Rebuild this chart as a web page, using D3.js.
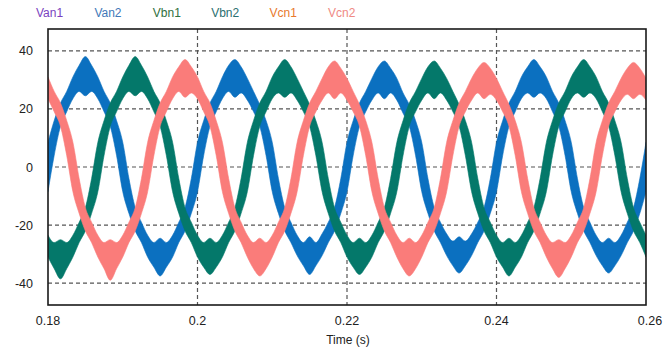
<!DOCTYPE html>
<html>
<head>
<meta charset="utf-8">
<script src="https://cdn.jsdelivr.net/npm/d3@7"></script>
<style>
  body { margin: 0; background: #fff; }
  svg { display: block; font-family: "Liberation Sans", Arial, sans-serif; }
</style>
</head>
<body>
<div id="chart"></div>
<script>
// legend names and colours (Van1/Vbn1/Vcn1 lie under the "2" traces)
const seriesNames = ['Van1', 'Van2', 'Vbn1', 'Vbn2', 'Vcn1', 'Vcn2'];
const legendColors = ['#7a3fc0', '#3f78b8', '#2f7040', '#2b7070', '#e8792c', '#ef8a84'];

const xTicks = [0.18, 0.2, 0.22, 0.24, 0.26];
const xTickLabels = ['0.18', '0.2', '0.22', '0.24', '0.26'];
const yTicks = [40, 20, 0, -20, -40];
const yTickLabels = ['40', '20', '0', '-20', '-40'];

// sample times (s)
const time = [
  0.18, 0.18083, 0.18167, 0.1825, 0.18333, 0.18417, 0.185, 0.18583, 0.18667, 0.1875, 0.18833, 0.18917,
  0.19, 0.19083, 0.19167, 0.1925, 0.19333, 0.19417, 0.195, 0.19583, 0.19667, 0.1975, 0.19833, 0.19917,
  0.2, 0.20083, 0.20167, 0.2025, 0.20333, 0.20417, 0.205, 0.20583, 0.20667, 0.2075, 0.20833, 0.20917,
  0.21, 0.21083, 0.21167, 0.2125, 0.21333, 0.21417, 0.215, 0.21583, 0.21667, 0.2175, 0.21833, 0.21917,
  0.22, 0.22083, 0.22167, 0.2225, 0.22333, 0.22417, 0.225, 0.22583, 0.22667, 0.2275, 0.22833, 0.22917,
  0.23, 0.23083, 0.23167, 0.2325, 0.23333, 0.23417, 0.235, 0.23583, 0.23667, 0.2375, 0.23833, 0.23917,
  0.24, 0.24083, 0.24167, 0.2425, 0.24333, 0.24417, 0.245, 0.24583, 0.24667, 0.2475, 0.24833, 0.24917,
  0.25, 0.25083, 0.25167, 0.2525, 0.25333, 0.25417, 0.255, 0.25583, 0.25667, 0.2575, 0.25833, 0.25917,
  0.26
];

// upper / lower edge of each switching-ripple band (V)
const vanHi = [
  8.5, 16, 22, 26, 31, 35,
  38, 35, 31, 26, 22, 16, 8.5, -4, -14, -19, -23.5, -26, -24.5, -26, -23.5, -19, -14, -4, 8.5, 16, 22, 26, 31, 35,
  37, 34.5, 30.5, 26, 21.5, 16, 8.5, -4, -14, -19, -23.5, -26, -24, -26, -23, -19, -14, -4, 8.5, 16, 22, 26, 30.5, 34.5,
  36.5, 34, 30.5, 25.5, 21.5, 16, 8.5, -4, -14, -19, -23, -25.5, -24, -25.5, -23, -19, -14, -4, 8.5, 16, 22, 26, 31, 34.5,
  37, 34.5, 31, 26, 22, 16, 8.5, -4, -14, -19, -23.5, -26, -24.5, -26, -23.5, -19, -14, -4, 8.5
];
const vanLo = [
  -8.5, 4, 14, 19, 23.5, 26,
  24.5, 26, 23.5, 19, 14, 4, -8.5, -16, -22, -26, -31, -34.5, -37.5, -34.5, -31, -26, -22, -16, -8.5, 4, 14, 19, 23.5, 26,
  24, 25.5, 23, 19, 14, 4, -8.5, -16, -22, -26, -30.5, -34, -37, -34, -30.5, -26, -22, -16, -8.5, 4, 14, 19, 23, 25.5,
  23.5, 25.5, 23, 18.5, 14, 4, -8.5, -16, -22, -26, -30.5, -34, -36.5, -34, -30.5, -26, -22, -16, -8.5, 4, 14, 19, 23.5, 25.5,
  24, 25.5, 23.5, 19, 14, 4, -8.5, -16, -22, -26, -30.5, -34, -36.5, -34, -30.5, -26, -22, -16, -8.5
];
const vbnHi = [
  -23.5, -26, -25, -26, -23.5, -19, -14, -4, 8.5, 16, 22, 26, 31, 35,
  38, 35, 31, 26, 22, 16, 8.5, -4, -14, -19, -23.5, -26, -24.5, -26, -23.5, -19, -14, -4, 8.5, 16, 22, 26, 31, 34.5,
  37, 34.5, 30.5, 26, 21.5, 16, 8.5, -4, -14, -19, -23.5, -26, -24.5, -26, -23.5, -19, -14, -4, 8.5, 16, 22, 26, 30.5, 34.5,
  36.5, 34, 30.5, 26, 21.5, 16, 8.5, -4, -14, -19, -23.5, -26, -24.5, -26, -23.5, -19, -14, -4, 8.5, 16, 22, 26, 31, 34.5,
  37, 34.5, 31, 26, 22, 16, 8.5, -4, -14, -19, -23.5
];
const vbnLo = [
  -31, -35, -38.5, -35, -31, -26, -22, -16, -8.5, 4, 14, 19, 23.5, 26,
  24.5, 26, 23.5, 19, 14, 4, -8.5, -16, -22, -26, -31, -34.5, -37, -34.5, -31, -26, -22, -16, -8.5, 4, 14, 19, 23.5, 25.5,
  24, 25.5, 23, 19, 14, 4, -8.5, -16, -22, -26, -31, -34.5, -37, -34.5, -31, -26, -22, -16, -8.5, 4, 14, 19, 23, 25.5,
  23.5, 25.5, 23, 19, 14, 4, -8.5, -16, -22, -26, -31, -34.5, -37.5, -34.5, -31, -26, -22, -16, -8.5, 4, 14, 19, 23.5, 25.5,
  24, 25.5, 23.5, 19, 14, 4, -8.5, -16, -22, -26, -31
];
const vcnHi = [
  31, 26, 22, 16, 8.5, -4, -14, -19, -23.5, -26, -25, -26, -23.5, -19, -14, -4, 8.5, 16, 22, 26, 31, 34.5,
  37, 34.5, 31, 26, 22, 16, 8.5, -4, -14, -19, -23.5, -26, -24.5, -26, -23.5, -19, -14, -4, 8.5, 16, 22, 26, 30.5, 34.5,
  36.5, 34, 30.5, 26, 21.5, 16, 8.5, -4, -14, -19, -23.5, -26, -24.5, -26, -23.5, -19, -14, -4, 8.5, 16, 22, 26, 30.5, 34,
  36, 34, 30.5, 26, 21.5, 16, 8.5, -4, -14, -19, -23.5, -26, -25, -26, -23.5, -19, -14, -4, 8.5, 16, 22, 26, 30.5, 34,
  36, 34, 30.5
];
const vcnLo = [
  23.5, 19, 14, 4, -8.5, -16, -22, -26, -31, -35, -39, -35, -31, -26, -22, -16, -8.5, 4, 14, 19, 23.5, 26,
  24, 25.5, 23.5, 19, 14, 4, -8.5, -16, -22, -26, -31, -35, -37.5, -35, -31, -26, -22, -16, -8.5, 4, 14, 19, 23, 25.5,
  23.5, 25.5, 23, 19, 14, 4, -8.5, -16, -22, -26, -31, -35, -37.5, -35, -31, -26, -22, -16, -8.5, 4, 14, 19, 23, 25.5,
  23.5, 25, 23, 19, 14, 4, -8.5, -16, -22, -26, -31, -35, -38, -35, -31, -26, -22, -16, -8.5, 4, 14, 19, 23, 25,
  23.5, 25, 23
];

const width = 663, height = 347;
const margin = {top: 29, right: 17, bottom: 42, left: 48};

const svg = d3.select('#chart').append('svg')
  .attr('width', width)
  .attr('height', height);

const x = d3.scaleLinear().domain([0.18, 0.26]).range([margin.left, width - margin.right]);
const y = d3.scaleLinear().domain([-47.5, 47.5]).range([height - margin.bottom, margin.top]);

// dashed grid
svg.append('g')
  .selectAll('line')
  .data(yTicks)
  .join('line')
  .attr('x1', x.range()[0]).attr('x2', x.range()[1])
  .attr('y1', d => y(d)).attr('y2', d => y(d))
  .attr('stroke', '#555').attr('stroke-width', 1.2).attr('stroke-dasharray', '4,3');

svg.append('g')
  .selectAll('line')
  .data(xTicks.slice(1, -1))
  .join('line')
  .attr('x1', d => x(d)).attr('x2', d => x(d))
  .attr('y1', y.range()[1]).attr('y2', y.range()[0])
  .attr('stroke', '#555').attr('stroke-width', 1.2).attr('stroke-dasharray', '4,3');

svg.append('clipPath').attr('id', 'plotClip')
  .append('rect')
  .attr('x', x.range()[0]).attr('y', y.range()[1])
  .attr('width', x.range()[1] - x.range()[0])
  .attr('height', y.range()[0] - y.range()[1]);

const bands = [
  {name: 'Van2', hi: vanHi, lo: vanLo, color: '#0b70c0'},
  {name: 'Vbn2', hi: vbnHi, lo: vbnLo, color: '#04786a'},
  {name: 'Vcn2', hi: vcnHi, lo: vcnLo, color: '#fa7c7a'}
];

const area = d3.area()
  .x(d => x(d.t))
  .y0(d => y(d.lo))
  .y1(d => y(d.hi))
  .curve(d3.curveMonotoneX);

svg.append('g')
  .attr('clip-path', 'url(#plotClip)')
  .selectAll('path')
  .data(bands)
  .join('path')
  .attr('d', b => area(time.map((t, i) => ({t: t, hi: b.hi[i], lo: b.lo[i]}))))
  .attr('fill', b => b.color)
  .attr('stroke', b => b.color)
  .attr('stroke-width', 0.6);

// frame
svg.append('rect')
  .attr('x', x.range()[0]).attr('y', y.range()[1])
  .attr('width', x.range()[1] - x.range()[0])
  .attr('height', y.range()[0] - y.range()[1])
  .attr('fill', 'none')
  .attr('stroke', '#1a1a1a')
  .attr('stroke-width', 1.6);

// tick labels
svg.append('g')
  .selectAll('text')
  .data(yTicks)
  .join('text')
  .attr('x', 33)
  .attr('y', d => y(d) + 4.5)
  .attr('text-anchor', 'end')
  .attr('font-size', 12.5)
  .attr('fill', '#222')
  .text((d, i) => yTickLabels[i]);

svg.append('g')
  .selectAll('text')
  .data(xTicks)
  .join('text')
  .attr('x', d => x(d) + (d === 0.26 ? 4 : 0))
  .attr('y', 325)
  .attr('text-anchor', 'middle')
  .attr('font-size', 12.5)
  .attr('fill', '#222')
  .text((d, i) => xTickLabels[i]);

svg.append('text')
  .attr('x', 348)
  .attr('y', 344)
  .attr('text-anchor', 'middle')
  .attr('font-size', 12)
  .attr('fill', '#222')
  .text('Time (s)');

// legend
svg.append('g')
  .selectAll('text')
  .data(seriesNames)
  .join('text')
  .attr('x', (d, i) => 36 + i * 58.4)
  .attr('y', 17)
  .attr('font-size', 12)
  .attr('fill', (d, i) => legendColors[i])
  .text(d => d);
</script>
</body>
</html>
